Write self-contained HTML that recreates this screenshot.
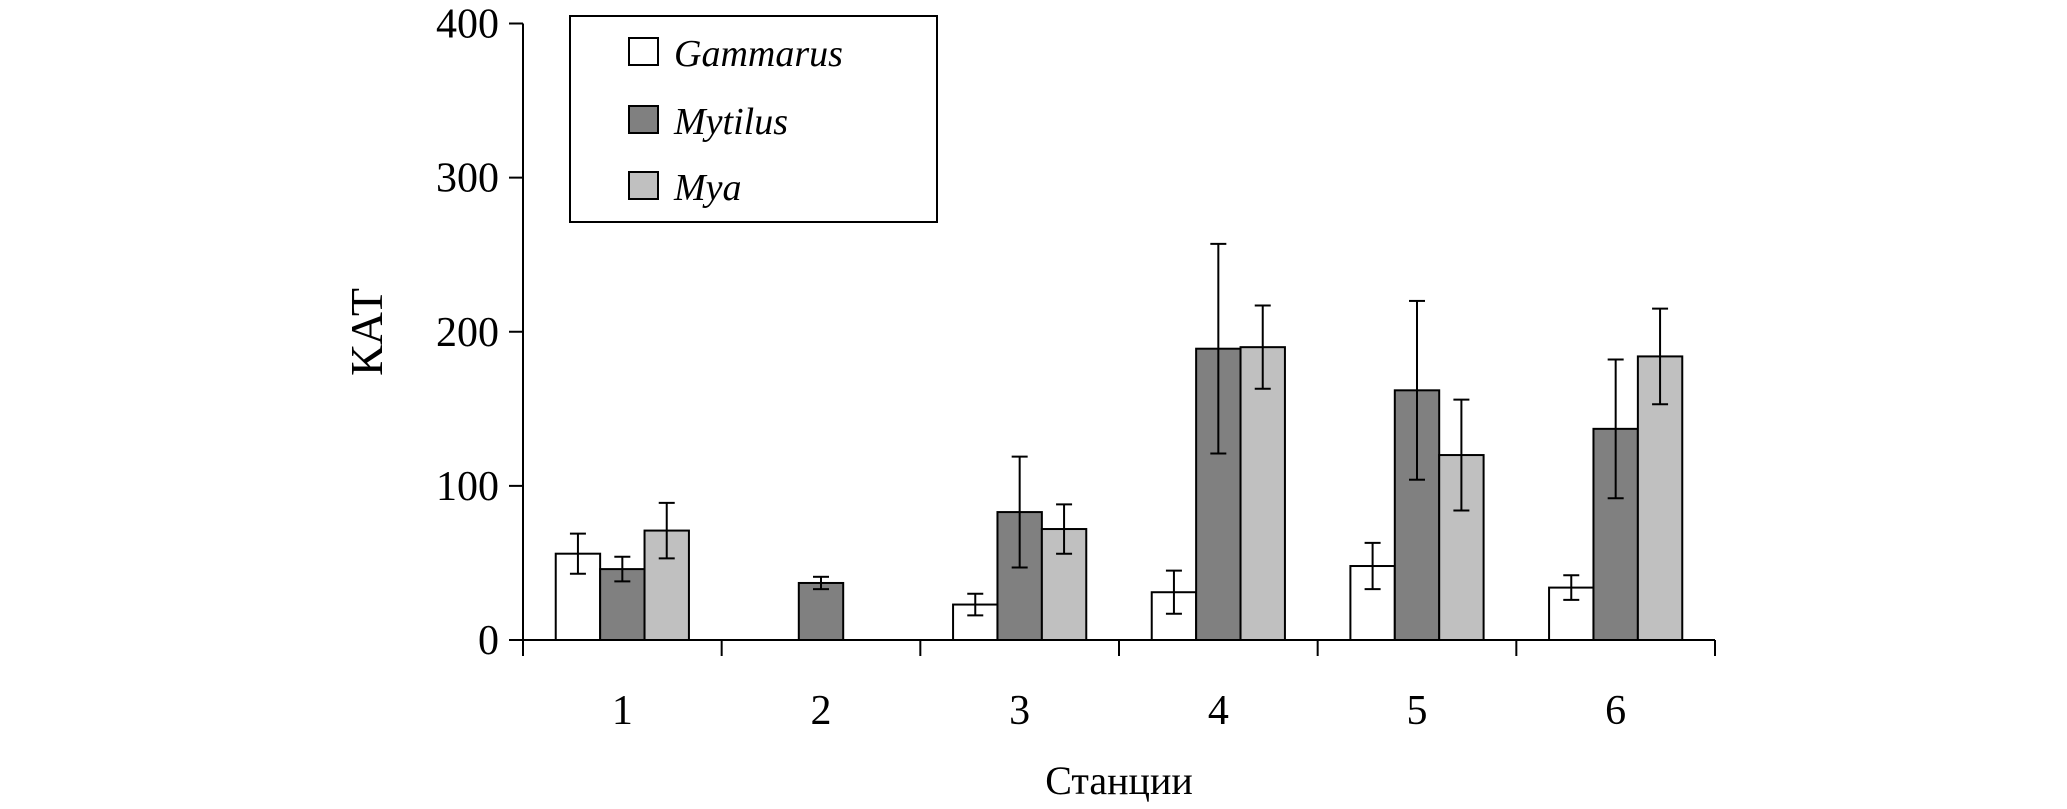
<!DOCTYPE html>
<html><head><meta charset="utf-8"><style>
html,body{margin:0;padding:0;background:#fff;}
svg{display:block;font-family:"Liberation Serif",serif;}
</style></head><body>
<svg id="chart" width="2067" height="809" viewBox="0 0 2067 809" xmlns="http://www.w3.org/2000/svg">
<g id="bars"></g>
<g id="axes"></g>
<text x="0" y="0" transform="translate(382,332) rotate(-90)" text-anchor="middle" font-size="46">КАТ</text>
<text x="1119" y="794" text-anchor="middle" font-size="40">Станции</text>
<g>
<rect x="570" y="16" width="367" height="206" fill="#fff" stroke="#000" stroke-width="2"/>
<rect x="629" y="38" width="29" height="27" fill="#fff" stroke="#000" stroke-width="2"/>
<text x="674" y="66" font-size="38" font-style="italic">Gammarus</text>
<rect x="629" y="106" width="29" height="27" fill="#808080" stroke="#000" stroke-width="2"/>
<text x="674" y="134" font-size="38" font-style="italic">Mytilus</text>
<rect x="629" y="172" width="29" height="27" fill="#c0c0c0" stroke="#000" stroke-width="2"/>
<text x="674" y="200" font-size="38" font-style="italic">Mya</text>
</g>
</svg>
<script>
const categories = ["1","2","3","4","5","6"];
const gammarus = [56, null, 23, 31, 48, 34];
const gammarusErr = [13, null, 7, 14, 15, 8];
const mytilus = [46, 37, 83, 189, 162, 137];
const mytilusErr = [8, 4, 36, 68, 58, 45];
const mya = [71, null, 72, 190, 120, 184];
const myaErr = [18, null, 16, 27, 36, 31];
const yTicks = [0, 100, 200, 300, 400];

const NS = "http://www.w3.org/2000/svg";
const x0 = 523, x1 = 1715, y0 = 640, yTop = 23.5, yMax = 400;
const catW = (x1 - x0) / categories.length;
const barW = 44.4;
function yScale(v){ return y0 - (v / yMax) * (y0 - yTop); }
function xCenter(i){ return x0 + catW * (i + 0.5); }
function mk(tag, attrs, parent){
  const e = document.createElementNS(NS, tag);
  for (const k in attrs) e.setAttribute(k, attrs[k]);
  parent.appendChild(e);
  return e;
}
const barsG = document.getElementById('bars');
const axesG = document.getElementById('axes');
const series = [
  {name:'gammarus', vals:gammarus, errs:gammarusErr, fill:'#ffffff'},
  {name:'mytilus', vals:mytilus, errs:mytilusErr, fill:'#808080'},
  {name:'mya', vals:mya, errs:myaErr, fill:'#c0c0c0'}
];
categories.forEach((c, i) => {
  series.forEach((s, j) => {
    const v = s.vals[i];
    if (v === null || v === undefined) return;
    const bx = xCenter(i) + (j - 1.5) * barW;
    const r = mk('rect', {x:bx, y:yScale(v), width:barW, height:y0 - yScale(v), fill:s.fill, stroke:'#000', 'stroke-width':2}, barsG);
    
    
    const e = s.errs[i];
    if (e) {
      const cx = bx + barW / 2;
      const g = mk('g', {stroke:'#000', 'stroke-width':2}, barsG);
      
      
      mk('line', {x1:cx, x2:cx, y1:yScale(v + e), y2:yScale(v - e)}, g);
      mk('line', {x1:cx - 8, x2:cx + 8, y1:yScale(v + e), y2:yScale(v + e)}, g);
      mk('line', {x1:cx - 8, x2:cx + 8, y1:yScale(v - e), y2:yScale(v - e)}, g);
    }
  });
  const t = mk('text', {x:xCenter(i), y:724, 'text-anchor':'middle', 'font-size':42}, axesG);
  t.textContent = c;
  
  
});
const ya = mk('line', {x1:x0, x2:x0, y1:yTop, y2:y0 + 16, stroke:'#000', 'stroke-width':2}, axesG);


const xa = mk('line', {x1:x0, x2:x1, y1:y0, y2:y0, stroke:'#000', 'stroke-width':2}, axesG);


for (let i = 1; i <= categories.length; i++) {
  const tk = mk('line', {x1:x0 + catW * i, x2:x0 + catW * i, y1:y0, y2:y0 + 16, stroke:'#000', 'stroke-width':2}, axesG);
  
  
}
yTicks.forEach(v => {
  const tk = mk('line', {x1:x0 - 14, x2:x0, y1:yScale(v), y2:yScale(v), stroke:'#000', 'stroke-width':2}, axesG);
  
  
  const t = mk('text', {x:x0 - 24, y:yScale(v) + 14, 'text-anchor':'end', 'font-size':42}, axesG);
  t.textContent = v;
  
  
});
</script>
</body></html>
